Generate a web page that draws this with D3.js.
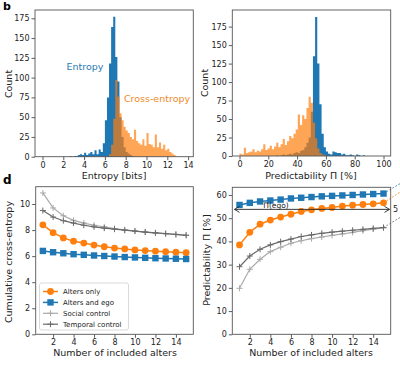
<!DOCTYPE html>
<html><head><meta charset="utf-8">
<script src="https://cdn.jsdelivr.net/npm/d3@7"></script>
<style>body{margin:0;background:#fff}svg{display:block;font-family:"DejaVu Sans",sans-serif}</style>
</head><body><svg id="c" width="400" height="369"></svg>
<script>
// ---------- DATA ----------
// Panel b (left): entropy histogram, bins of 0.2 bits (left edges)
const entropyEdges = [2.6,2.8,3.0,3.2,3.4,3.6,3.8,4.0,4.2,4.4,4.6,4.8,5.0,5.2,5.4,5.6,5.8,6.0,6.2,6.4,6.6,6.8,7.0,7.2,7.4,7.6,7.8,8.0,8.2,8.4,8.6];
const entropyCounts = [1,0,1,1,2,3,2,5,2,4,6,3,8,3,9,6,17,46,75,118,164,177,126,95,50,25,12,6,4,2,1];
const crossEdges = [6.4,6.6,6.8,7.0,7.2,7.4,7.6,7.8,8.0,8.2,8.4,8.6,8.8,9.0,9.2,9.4,9.6,9.8,10.0,10.2,10.4,10.6,10.8,11.0,11.2,11.4,11.6,11.8,12.0,12.2,12.4,12.6];
const crossCounts = [3,15,48,97,76,55,46,38,33,30,25,22,34,20,17,15,22,14,30,16,15,12,28,12,18,10,15,8,10,6,4,2];
const binW1 = 0.2;
// Panel b (right): predictability histograms, bins of 1.5 %
const predEdges = [24,25.5,27,28.5,30,31.5,33,34.5,36,37.5,39,40.5,42,43.5,45,46.5,48,49.5,51,52.5,54,55.5,57,58.5,60,61.5,63,64.5,66,67.5,69,70.5,72,73.5,75,76.5,78,79.5,81,82.5,84,85.5];
const predCounts = [0,1,0,1,2,1,2,3,2,4,5,4,7,8,12,18,25,60,135,188,125,70,30,12,6,3,2,6,5,4,4,2,3,1,1,2,1,0,2,1,0,1];
const crossPredEdges = [0,1.5,3,4.5,6,7.5,9,10.5,12,13.5,15,16.5,18,19.5,21,22.5,24,25.5,27,28.5,30,31.5,33,34.5,36,37.5,39,40.5,42,43.5,45,46.5,48,49.5,51,52.5,54,55.5,57,58.5];
const crossPredCounts = [3,2,11,4,5,6,9,5,7,6,9,16,8,10,14,9,13,18,12,16,23,15,20,27,24,30,36,56,42,55,50,65,80,72,45,24,10,4,2,1];
const binW2 = 1.5;
// Panel d
const alters = [1,2,3,4,5,6,7,8,9,10,11,12,13,14,15];
const ceAltersOnly = [8.4,7.8,7.4,7.15,7.0,6.85,6.72,6.62,6.55,6.48,6.43,6.38,6.34,6.3,6.26];
const ceAltersEgo = [6.4,6.3,6.22,6.15,6.1,6.05,6.01,5.97,5.93,5.9,5.87,5.84,5.82,5.8,5.78];
const ceSocial = [10.85,9.7,9.1,8.75,8.54,8.37,8.25,8.12,8.02,7.93,7.85,7.78,7.72,7.66,7.6];
const ceTemporal = [9.5,9.0,8.72,8.54,8.37,8.25,8.15,8.07,7.99,7.92,7.85,7.79,7.73,7.67,7.6];
const prAltersOnly = [38.5,43.9,47.4,49.2,50.5,51.7,52.9,53.6,54.2,54.6,55.2,55.6,55.9,56.2,56.6];
const prAltersEgo = [55.7,56.6,57.2,57.6,58.0,58.5,58.8,59.1,59.4,59.6,59.8,60.0,60.2,60.4,60.6];
const prSocial = [19.8,28.0,32.3,35.6,37.5,39.2,40.3,41.2,41.9,42.6,43.2,43.9,44.6,45.3,45.8];
const prTemporal = [29.1,33.7,36.6,38.5,39.9,41.0,42.1,42.8,43.5,44.0,44.4,44.8,45.2,45.6,46.0];
const piEgo = 53.8;
const legendLabels = ["Alters only","Alters and ego","Social control","Temporal control"];

// ---------- DRAW ----------
const svg = d3.select("#c");
const BLUE = "#1f77b4", ORANGE = "#ff7f0e", LGRAY = "#aaaaaa", DGRAY = "#6a6a6a";

function frame(g, x, y, xt, yt, fmt) {
  const [x0, x1] = x.range(), [y0, y1] = y.range();
  const ax = g.append("g").attr("transform", `translate(0,${y0})`)
    .call(d3.axisBottom(x).tickValues(xt).tickSize(3.5).tickPadding(2).tickFormat(d3.format("d")));
  const ay = g.append("g").attr("transform", `translate(${x0},0)`)
    .call(d3.axisLeft(y).tickValues(yt).tickSize(3.5).tickPadding(2).tickFormat(d3.format("d")));
  [ax, ay].forEach(a => {
    a.select(".domain").remove();
    a.selectAll("line").attr("stroke", "#333").attr("stroke-width", 0.8);
    a.selectAll("text").attr("font-size", 8).attr("fill", "#222").attr("font-family", "DejaVu Sans");
  });
  g.append("rect").attr("x", x0).attr("y", y1).attr("width", x1 - x0).attr("height", y0 - y1)
    .attr("fill", "none").attr("stroke", "#555").attr("stroke-width", 0.9);
}

function hist(g, x, y, edges, counts, w, color, op) {
  const pts = edges.map((e, i) => [e, counts[i]]);
  pts.push([edges[edges.length - 1] + w, 0]);
  const area = d3.area().x(d => x(d[0])).y0(y(0)).y1(d => y(d[1])).curve(d3.curveStepAfter);
  g.append("path").attr("d", area(pts)).attr("fill", color).attr("fill-opacity", op);
}

function label(g, text, x, y, rot, size) {
  const t = g.append("text").attr("x", x).attr("y", y).attr("text-anchor", "middle")
    .attr("font-size", size || 9.5).attr("fill", "#222").text(text);
  if (rot) t.attr("transform", `rotate(-90,${x},${y})`);
  return t;
}

// Panel b left
{
  const g = svg.append("g");
  const x = d3.scaleLinear().domain([-0.72, 14.5]).range([35, 193.3]);
  const y = d3.scaleLinear().domain([0, 185.5]).range([156.7, 10]);
  hist(g, x, y, entropyEdges, entropyCounts, binW1, BLUE, 1);
  hist(g, x, y, crossEdges, crossCounts, binW1, ORANGE, 0.7);
  frame(g, x, y, d3.range(0, 15, 2), d3.range(0, 176, 25));
  label(g, "Entropy [bits]", 114, 179);
  label(g, "Count", 12, 84, true);
  g.append("text").attr("x", 85).attr("y", 70).attr("text-anchor", "middle").attr("font-size", 9.5)
    .attr("fill", "#2a78b3").text("Entropy");
  g.append("text").attr("x", 157).attr("y", 102).attr("text-anchor", "middle").attr("font-size", 9.5)
    .attr("fill", "#f08a2a").text("Cross-entropy");
  svg.append("text").attr("x", 3).attr("y", 10).attr("font-size", 11).attr("font-weight", "bold").text("b");
}
// Panel b right
{
  const g = svg.append("g");
  const x = d3.scaleLinear().domain([-5, 105]).range([232.3, 390.7]);
  const y = d3.scaleLinear().domain([0, 197.5]).range([156, 10]);
  hist(g, x, y, predEdges, predCounts, binW2, BLUE, 1);
  hist(g, x, y, crossPredEdges, crossPredCounts, binW2, ORANGE, 0.7);
  frame(g, x, y, d3.range(0, 101, 20), d3.range(0, 176, 25));
  label(g, "Predictability Π [%]", 311, 179);
  label(g, "Count", 208, 83, true);
}

function series(g, x, y, vals, color, marker, lw) {
  const line = d3.line().x((d, i) => x(alters[i])).y(d => y(d));
  g.append("path").attr("d", line(vals)).attr("fill", "none").attr("stroke", color).attr("stroke-width", lw || 1.5);
  vals.forEach((v, i) => drawMarker(g, x(alters[i]), y(v), color, marker));
}
function drawMarker(g, cx, cy, color, marker) {
  if (marker === "o") g.append("circle").attr("cx", cx).attr("cy", cy).attr("r", 3.4).attr("fill", color);
  else if (marker === "s") g.append("rect").attr("x", cx - 3.2).attr("y", cy - 3.2).attr("width", 6.4).attr("height", 6.4).attr("fill", color);
  else {
    g.append("path").attr("d", `M${cx - 3},${cy}H${cx + 3}M${cx},${cy - 3}V${cy + 3}`).attr("stroke", color).attr("stroke-width", 1);
  }
}

// Panel d left
{
  const g = svg.append("g");
  const x = d3.scaleLinear().domain([0.3, 15.7]).range([35.7, 193.3]);
  const y = d3.scaleLinear().domain([0, 11.33]).range([334.3, 186.7]);
  series(g, x, y, ceSocial, LGRAY, "+", 1.2);
  series(g, x, y, ceTemporal, DGRAY, "+", 1.2);
  series(g, x, y, ceAltersOnly, ORANGE, "o");
  series(g, x, y, ceAltersEgo, BLUE, "s");
  frame(g, x, y, d3.range(2, 15, 2), d3.range(0, 11, 2));
  label(g, "Number of included alters", 115, 356);
  label(g, "Cumulative cross-entropy", 12, 262, true);
  svg.append("text").attr("x", 3).attr("y", 184).attr("font-size", 12).attr("font-weight", "bold").text("d");
  // legend
  const lg = g.append("g");
  lg.append("rect").attr("x", 39.5).attr("y", 283).attr("width", 89).attr("height", 47).attr("rx", 2)
    .attr("fill", "#fff").attr("fill-opacity", 0.85).attr("stroke", "#d0d0d0").attr("stroke-width", 0.8);
  const cols = [[ORANGE, "o"], [BLUE, "s"], [LGRAY, "+"], [DGRAY, "+"]];
  legendLabels.forEach((t, i) => {
    const yy = 291.5 + i * 10.9;
    lg.append("line").attr("x1", 43).attr("x2", 58).attr("y1", yy).attr("y2", yy)
      .attr("stroke", cols[i][0]).attr("stroke-width", i < 2 ? 1.5 : 1.2);
    drawMarker(lg, 50.5, yy, cols[i][0], cols[i][1]);
    lg.append("text").attr("x", 63).attr("y", yy + 2.5).attr("font-size", 7).attr("fill", "#222").text(t);
  });
}
// Panel d right
{
  const g = svg.append("g");
  const x = d3.scaleLinear().domain([0.3, 15.7]).range([232.3, 390.7]);
  const y = d3.scaleLinear().domain([0, 63.3]).range([334.3, 187.3]);
  series(g, x, y, prSocial, LGRAY, "+", 1.2);
  series(g, x, y, prTemporal, DGRAY, "+", 1.2);
  series(g, x, y, prAltersOnly, ORANGE, "o");
  series(g, x, y, prAltersEgo, BLUE, "s");
  // dotted extrapolations beyond the frame
  const last = alters.length - 1;
  [[prAltersEgo[last], BLUE, 0.6], [prAltersOnly[last], ORANGE, 0.65], [prTemporal[last], DGRAY, 0.6]].forEach(([v, c, s]) => {
    const x0 = x(alters[last]), y0 = y(v);
    g.append("line").attr("x1", x0).attr("y1", y0).attr("x2", x0 + 30).attr("y2", y0 - 30 * s)
      .attr("stroke", c).attr("stroke-width", 1).attr("stroke-dasharray", "1.5,2");
  });
  // Π(ego) arrow
  const ya = y(piEgo);
  const ax0 = 234.5, ax1 = 389.5;
  g.append("line").attr("x1", ax0).attr("x2", ax1).attr("y1", ya).attr("y2", ya).attr("stroke", "#222").attr("stroke-width", 0.9);
  g.append("path").attr("d", `M${ax0 + 5},${ya - 3}L${ax0},${ya}L${ax0 + 5},${ya + 3}M${ax1 - 5},${ya - 3}L${ax1},${ya}L${ax1 - 5},${ya + 3}`)
    .attr("fill", "none").attr("stroke", "#222").attr("stroke-width", 0.9);
  g.append("text").attr("x", 276).attr("y", ya - 1.5).attr("text-anchor", "middle").attr("font-size", 7.5).attr("fill", "#222").text("Π(ego)");
  g.append("text").attr("x", 393).attr("y", ya + 3).attr("font-size", 8).attr("fill", "#222").text("5");
  frame(g, x, y, d3.range(2, 15, 2), d3.range(0, 61, 10));
  label(g, "Number of included alters", 311, 356);
  label(g, "Predictability Π [%]", 210, 260, true);
}
</script></body></html>
